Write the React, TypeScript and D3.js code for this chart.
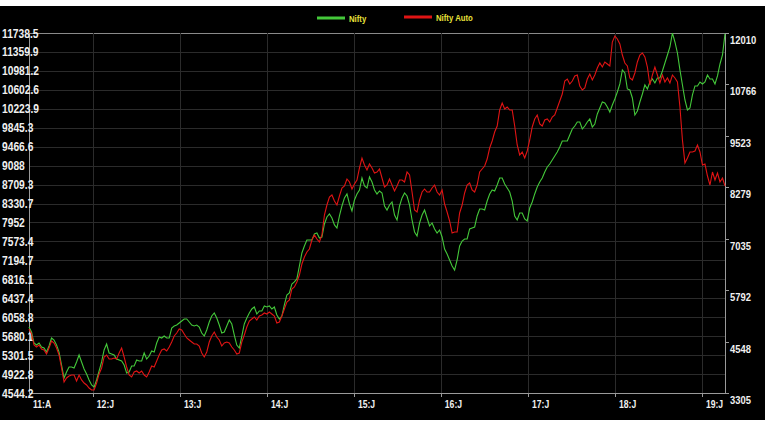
import { useEffect, useRef } from 'react';
import * as d3 from 'd3';

// time span of the chart (first sample .. last sample)
const START = '2011-04-08';
const END = '2019-04-08';

const xTickDates = ['2011-04-08', '2012-01-01', '2013-01-01', '2014-01-01', '2015-01-01', '2016-01-01', '2017-01-01', '2018-01-01', '2019-01-01'];
const xTickLabels = ['11:A', '12:J', '13:J', '14:J', '15:J', '16:J', '17:J', '18:J', '19:J'];

const leftTicks = [11738.5, 11359.9, 10981.2, 10602.6, 10223.9, 9845.3, 9466.6, 9088, 8709.3, 8330.7, 7952, 7573.4, 7194.7, 6816.1, 6437.4, 6058.8, 5680.1, 5301.5, 4922.8, 4544.2];
const rightTicks = [12010, 10766, 9523, 8279, 7035, 5792, 4548, 3305];

const seriesNames = ['Nifty', 'Nifty Auto'];

// Nifty (left axis)
const niftyValues = [
  5863, 5763, 5543, 5503, 5543, 5463, 5443, 5363, 5483, 5643,
  5603, 5503, 5363, 5103, 4844, 4964, 5064, 5064, 5044, 5164,
  5304, 5164, 5024, 4924, 4804, 4704, 4664, 4804, 4984, 5164,
  5404, 5523, 5344, 5324, 5304, 5224, 5204, 5184, 5103, 4944,
  4964, 5084, 5084, 5204, 5184, 5184, 5344, 5224, 5284, 5384,
  5363, 5543, 5663, 5643, 5683, 5643, 5643, 5843, 5883, 5903,
  5943, 5983, 6023, 6023, 5963, 5903, 5883, 5903, 5863, 5743,
  5683, 5803, 5963, 6083, 6143, 6043, 5903, 5743, 5763, 5883,
  6003, 5923, 5703, 5503, 5443, 5683, 5923, 6043, 6143, 6223,
  6263, 6123, 6183, 6183, 6283, 6263, 6283, 6223, 6263, 6103,
  6023, 6083, 6303, 6503, 6543, 6723, 6763, 6823, 7082, 7342,
  7482, 7602, 7602, 7602, 7722, 7742, 7642, 7662, 7922, 8062,
  8122, 8042, 7902, 7842, 8082, 8282, 8442, 8522, 8322, 8182,
  8402, 8522, 8601, 8841, 8681, 8641, 8861, 8761, 8601, 8522,
  8581, 8541, 8282, 8201, 8301, 8361, 8101, 8001, 8282, 8442,
  8541, 8481, 8301, 8001, 7762, 7682, 7942, 8101, 8201, 8042,
  7882, 7942, 7822, 7742, 7802, 7662, 7422, 7322, 7202, 7082,
  7002, 7202, 7482, 7582, 7622, 7622, 7822, 7842, 7862, 8082,
  8221, 8221, 8201, 8381, 8522, 8601, 8581, 8701, 8841, 8841,
  8721, 8641, 8561, 8381, 8082, 8001, 8141, 8141, 8021, 7982,
  8241, 8361, 8522, 8661, 8761, 8841, 8961, 9061, 9121, 9201,
  9281, 9361, 9460, 9580, 9580, 9580, 9700, 9820, 9880, 9960,
  9960, 9820, 9880, 9960, 10020, 9860, 9920, 10120, 10240, 10360,
  10340, 10260, 10160, 10300, 10420, 10560, 10720, 11000, 10940, 10620,
  10600, 10440, 10100, 10180, 10360, 10520, 10700, 10620, 10760, 10820,
  10740, 10840, 10840, 10980, 11139, 11299, 11459, 11738, 11559, 11339,
  11000, 10700, 10400, 10200, 10240, 10500, 10680, 10680, 10760, 10720,
  10760, 10900, 10820, 10820, 10720, 10880, 11119, 11299, 11720,
];

// Nifty Auto (right axis)
const autoValues = [
  4853, 4732, 4466, 4417, 4466, 4369, 4345, 4248, 4393, 4563,
  4514, 4393, 4224, 3910, 3571, 3668, 3716, 3740, 3740, 3595,
  3740, 3620, 3547, 3499, 3426, 3378, 3378, 3547, 3765, 3910,
  4176, 4224, 4127, 4127, 4151, 4127, 4272, 4393, 4176, 3934,
  3740, 3692, 3813, 3837, 3789, 3837, 3740, 3692, 3813, 3958,
  3934, 4079, 4224, 4345, 4369, 4321, 4417, 4538, 4683, 4756,
  4853, 4829, 4732, 4635, 4587, 4538, 4490, 4490, 4442, 4272,
  4176, 4297, 4538, 4683, 4780, 4659, 4587, 4442, 4514, 4538,
  4514, 4417, 4345, 4248, 4272, 4538, 4708, 4901, 5046, 5094,
  5143, 5070, 5167, 5191, 5240, 5215, 5264, 5215, 5167, 4998,
  5022, 5167, 5336, 5506, 5554, 5820, 5868, 5989, 6158, 6424,
  6594, 6715, 6787, 7005, 7126, 7029, 6956, 7126, 7609, 7851,
  8044, 8093, 7948, 7851, 8069, 8262, 8310, 8480, 8407, 8238,
  8359, 8455, 8746, 8987, 8818, 8697, 8842, 8746, 8625, 8649,
  8721, 8504, 8286, 8335, 8480, 8335, 8190, 8310, 8455, 8455,
  8407, 8649, 8576, 8165, 7730, 7682, 7972, 8165, 8238, 8165,
  8165, 8262, 8335, 8165, 8093, 8214, 7875, 7682, 7464, 7174,
  7198, 7198, 7658, 7851, 8141, 8335, 8383, 8214, 8165, 8335,
  8649, 8721, 8794, 8963, 9229, 9399, 9616, 9761, 10148, 10317,
  10172, 10221, 10148, 10148, 9761, 9302, 9060, 9133, 8987, 9157,
  9423, 9737, 9930, 10027, 9810, 9761, 9906, 9930, 9858, 9979,
  10027, 10196, 10366, 10535, 10849, 10898, 10777, 10849, 10970, 10994,
  10728, 10632, 10680, 10898, 11019, 10873, 10994, 11164, 11285, 11188,
  11309, 11260, 11212, 11792, 11937, 11865, 11744, 11478, 11285, 11212,
  10922, 10873, 11043, 11309, 11478, 11526, 11430, 11188, 10753, 10994,
  11188, 10994, 10801, 10994, 10825, 10922, 10801, 10994, 10922, 10825,
  10221, 9423, 8867, 8987, 9133, 9133, 9157, 9302, 9133, 8818,
  8842, 8552, 8335, 8649, 8455, 8625, 8407, 8504, 8310,
];

const COLORS = {
  bg: '#000000',
  grid: '#2b2b2b',
  axis: '#9a9a9a',
  text: '#f0f0f0',
  legendText: '#e8e23a',
  nifty: '#44c83a',
  auto: '#e01414',
};

// Arial metrics squeezed horizontally to get the narrow look of the original
const FONT = '"Liberation Sans", Arial, sans-serif';
const SQUEEZE = 0.82;

const W = 767;
const H = 427;
const margin = { top: 33, right: 42, bottom: 34, left: 29 };

export default function App() {
  const svgRef = useRef<SVGSVGElement>(null);

  useEffect(() => {
    if (!svgRef.current) return;
    const svg = d3.select(svgRef.current);
    svg.selectAll('*').remove();

    const parse = d3.timeParse('%Y-%m-%d');
    const start = parse(START)!;
    const end = parse(END)!;

    const x0 = margin.left;
    const x1 = W - margin.right;
    const y0 = H - margin.bottom;
    const y1 = margin.top;

    const x = d3.scaleTime().domain([start, end]).range([x0, x1]);
    const yL = d3.scaleLinear().domain([leftTicks[leftTicks.length - 1], leftTicks[0]]).range([y0, y1]);
    const yR = d3.scaleLinear().domain([rightTicks[rightTicks.length - 1], rightTicks[0]]).range([y0, y1]);

    // background
    svg.append('rect').attr('x', 0).attr('y', 6).attr('width', 765).attr('height', 414).attr('fill', COLORS.bg);

    // horizontal grid (left axis ticks)
    svg.append('g')
      .selectAll('line')
      .data(leftTicks)
      .join('line')
      .attr('x1', x0).attr('x2', x1)
      .attr('y1', d => Math.round(yL(d)) + 0.5)
      .attr('y2', d => Math.round(yL(d)) + 0.5)
      .attr('stroke', (_, i) => (i === 0 ? '#8a8a8a' : COLORS.grid))
      .attr('stroke-width', 1);

    // vertical grid (year ticks)
    const xDates = xTickDates.map(d => parse(d)!);
    svg.append('g')
      .selectAll('line')
      .data(xDates.slice(1))
      .join('line')
      .attr('x1', d => Math.round(x(d)) + 0.5)
      .attr('x2', d => Math.round(x(d)) + 0.5)
      .attr('y1', y1).attr('y2', y0 + 4)
      .attr('stroke', COLORS.grid);

    // axis lines
    const axes = svg.append('g').attr('stroke', COLORS.axis).attr('stroke-width', 1);
    axes.append('line').attr('x1', x0 + 0.5).attr('x2', x0 + 0.5).attr('y1', y1).attr('y2', y0);
    axes.append('line').attr('x1', x1 + 0.5).attr('x2', x1 + 0.5).attr('y1', y1).attr('y2', y0);
    axes.append('line').attr('x1', x0).attr('x2', x1 + 1).attr('y1', y0 + 0.5).attr('y2', y0 + 0.5);

    // bottom tick marks
    axes.selectAll('line.xt')
      .data(xDates.slice(1))
      .join('line')
      .attr('class', 'xt')
      .attr('x1', d => Math.round(x(d)) + 0.5)
      .attr('x2', d => Math.round(x(d)) + 0.5)
      .attr('y1', y0).attr('y2', y0 + 4);

    // right tick marks
    axes.selectAll('line.rt')
      .data(rightTicks)
      .join('line')
      .attr('class', 'rt')
      .attr('x1', x1).attr('x2', x1 + 4)
      .attr('y1', d => Math.round(yR(d)) + 0.5)
      .attr('y2', d => Math.round(yR(d)) + 0.5);

    const label = (
      g: d3.Selection<SVGGElement, unknown, null, undefined>,
      tx: number, ty: number, size: number, fill: string, txt: string,
    ) => {
      g.append('text')
        .attr('transform', `translate(${tx},${ty}) scale(${SQUEEZE},1)`)
        .attr('fill', fill)
        .attr('font-family', FONT)
        .attr('font-weight', 'bold')
        .attr('font-size', size)
        .text(txt);
    };

    // left labels
    const gl = svg.append('g');
    leftTicks.forEach(d => label(gl, 2, yL(d) + 4.5, 12.5, COLORS.text, String(d)));

    // right labels
    const gr = svg.append('g');
    rightTicks.forEach(d => label(gr, x1 + 5, yR(d) + 11, 11.5, COLORS.text, String(d)));

    // bottom labels
    const gb = svg.append('g');
    xDates.forEach((d, i) => label(gb, x(d) + 4, y0 + 15, 10.5, COLORS.text, xTickLabels[i]));

    // series
    const pointDate = (i: number, n: number) =>
      new Date(start.getTime() + (i / (n - 1)) * (end.getTime() - start.getTime()));

    const niftyLine = d3.line<number>()
      .x((_, i) => x(pointDate(i, niftyValues.length)))
      .y(d => yL(d));
    const autoLine = d3.line<number>()
      .x((_, i) => x(pointDate(i, autoValues.length)))
      .y(d => yR(d));

    svg.append('path')
      .datum(niftyValues)
      .attr('d', niftyLine)
      .attr('fill', 'none')
      .attr('stroke', COLORS.nifty)
      .attr('stroke-width', 1.1);

    svg.append('path')
      .datum(autoValues)
      .attr('d', autoLine)
      .attr('fill', 'none')
      .attr('stroke', COLORS.auto)
      .attr('stroke-width', 1.1);

    // legend
    const legend = [
      { name: seriesNames[0], color: COLORS.nifty, lx: 317, ly: 18 },
      { name: seriesNames[1], color: COLORS.auto, lx: 404, ly: 17 },
    ];
    const lg = svg.append('g');
    legend.forEach(l => {
      lg.append('line')
        .attr('x1', l.lx).attr('x2', l.lx + 28)
        .attr('y1', l.ly).attr('y2', l.ly)
        .attr('stroke', l.color)
        .attr('stroke-width', 3);
      label(lg, l.lx + 32, l.ly + 3.5, 9.5, COLORS.legendText, l.name);
    });
  }, []);

  return (
    <svg
      ref={svgRef}
      width={W}
      height={H}
      style={{ position: 'absolute', left: 0, top: 0, background: '#fff' }}
    />
  );
}
